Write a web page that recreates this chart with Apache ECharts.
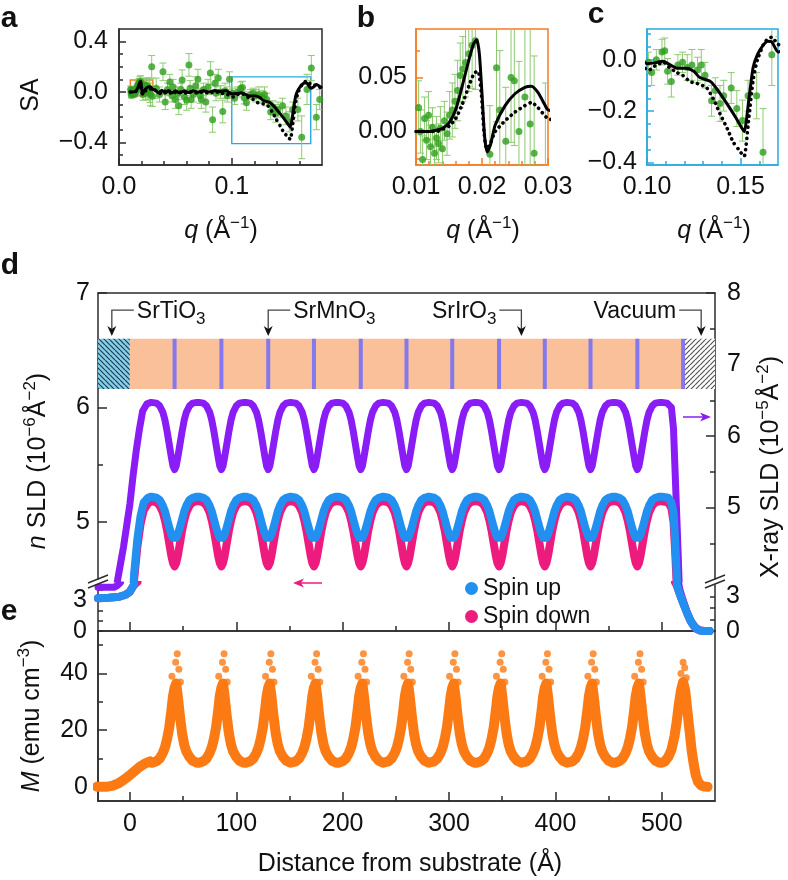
<!DOCTYPE html>
<html>
<head>
<meta charset="utf-8">
<title>SLD depth profile</title>
<script src="https://cdn.jsdelivr.net/npm/echarts@6.0.0/dist/echarts.min.js"></script>
<style>
  html, body { margin: 0; padding: 0; background: #fff; }
  #chart { width: 788px; height: 880px; }
</style>
</head>
<body>
<div id="chart"></div>
<script>
// ---- spin asymmetry points (a, b, c all use the same set) ----
var saQ = [
  0.0104, 0.0107, 0.0110, 0.0113, 0.0116, 0.0119, 0.0122, 0.0125, 0.0128, 0.0131,
  0.0134, 0.0137, 0.0140, 0.0143, 0.0147, 0.0151, 0.0155, 0.0159, 0.0163, 0.0167,
  0.0171, 0.0175, 0.0180, 0.0185, 0.0190, 0.0212, 0.0222, 0.0227, 0.0236, 0.0244,
  0.0249, 0.0256, 0.0265, 0.0273, 0.0279, 0.0290, 0.0296,
  0.033, 0.036, 0.039, 0.041, 0.043, 0.045, 0.047, 0.048, 0.050, 0.052,
  0.053, 0.055, 0.056, 0.058, 0.060, 0.062, 0.063, 0.064, 0.066, 0.068,
  0.070, 0.072, 0.073, 0.075, 0.077, 0.079, 0.081, 0.083, 0.085, 0.086,
  0.088, 0.090, 0.092, 0.094, 0.096, 0.098,
  0.1007, 0.1025, 0.105, 0.108, 0.1095, 0.111, 0.113, 0.1165, 0.119, 0.1215,
  0.124, 0.127, 0.129, 0.131, 0.1345, 0.1365, 0.139, 0.141, 0.145, 0.148,
  0.151, 0.154, 0.1586, 0.162, 0.1667, 0.1705, 0.175, 0.178
];
var saVal = [
  0.022, 0.000, -0.026, 0.012, -0.008, 0.015, -0.014, 0.004, -0.020, -0.006,
  -0.011, 0.003, -0.016, 0.010, -0.002, 0.015, 0.020, 0.028, 0.038, 0.052,
  0.058, 0.064, 0.072, 0.080, 0.084, -0.021, 0.059, 0.020, -0.009, 0.050,
  0.047, 0.000, 0.032, 0.007, -0.020, 0.200, -0.035,
  0.03, -0.02, 0.16, -0.08, 0.02, 0.08, -0.03, 0.04, -0.06, -0.01,
  -0.11, 0.02, 0.095, -0.04, -0.065, 0.215, 0.03, -0.06, -0.02, 0.05,
  0.10, -0.03, -0.06, 0.02, -0.08, 0.04, 0.15, -0.22, 0.07, -0.01,
  0.11, 0.00, -0.155, 0.01, -0.03, 0.10,
  -0.01, -0.05, 0.00, 0.03, 0.035, -0.045, -0.085, -0.02, -0.01, -0.03,
  -0.02, -0.04, -0.02, -0.06, -0.16, -0.12, -0.17, -0.14, -0.11, -0.19,
  -0.237, -0.14, -0.14, -0.36, 0.02, 0.19, -0.2, -0.06
];
var saErr = [
  0.025, 0.020, 0.022, 0.020, 0.018, 0.022, 0.020, 0.018, 0.022, 0.020,
  0.018, 0.020, 0.020, 0.018, 0.020, 0.022, 0.025, 0.025, 0.028, 0.030,
  0.030, 0.032, 0.035, 0.040, 0.045, 0.045, 0.050, 0.055, 0.050, 0.060,
  0.060, 0.065, 0.080, 0.090, 0.090, 0.090, 0.080,
  0.08, 0.06, 0.07, 0.06, 0.05, 0.06, 0.05, 0.06, 0.07, 0.05,
  0.07, 0.05, 0.08, 0.06, 0.08, 0.09, 0.06, 0.07, 0.06, 0.07,
  0.08, 0.06, 0.07, 0.05, 0.08, 0.06, 0.09, 0.10, 0.07, 0.06,
  0.07, 0.05, 0.09, 0.06, 0.05, 0.06,
  0.04, 0.05, 0.04, 0.05, 0.05, 0.05, 0.06, 0.04, 0.04, 0.05,
  0.06, 0.05, 0.06, 0.05, 0.06, 0.05, 0.07, 0.06, 0.06, 0.07,
  0.08, 0.06, 0.09, 0.17, 0.12, 0.10, 0.10, 0.08
];

// fits: solid and dotted model curves
var fitQ = [
  0.0100, 0.0120, 0.0140, 0.0150, 0.0160, 0.0170, 0.0180, 0.0187, 0.0192, 0.0196,
  0.0200, 0.0204, 0.0208, 0.0213, 0.0220, 0.0235, 0.0250, 0.0265, 0.0275, 0.0285,
  0.0295, 0.0300, 0.032, 0.035, 0.038, 0.041, 0.044, 0.047, 0.050, 0.054,
  0.058, 0.062, 0.066, 0.070, 0.075, 0.080, 0.085, 0.090, 0.095,
  0.1000, 0.1040, 0.1086, 0.1120, 0.1160, 0.1210, 0.1250, 0.1280, 0.1340, 0.1380,
  0.1426, 0.1470, 0.1510, 0.1520, 0.1545, 0.1567, 0.1590, 0.1620, 0.1645, 0.1667,
  0.1700, 0.1725, 0.1750, 0.1800
];
var fitSolid = [
  0.000, 0.000, 0.003, 0.008, 0.020, 0.042, 0.066, 0.081, 0.085, 0.072,
  0.035, -0.005, -0.019, -0.012, 0.006, 0.024, 0.035, 0.041, 0.042, 0.036,
  0.025, 0.020, 0.018, -0.008, 0.014, -0.010, 0.012, -0.008, 0.010, -0.009,
  0.008, -0.005, 0.010, -0.002, 0.010, 0.000, 0.012, 0.004, 0.010,
  -0.015, -0.012, -0.006, -0.018, -0.033, -0.033, -0.045, -0.068, -0.085, -0.12,
  -0.17, -0.22, -0.27, -0.28, -0.15, -0.03, 0.02, 0.056, 0.072, 0.07,
  0.03, 0.04, 0.06, 0.03
];
var fitDotQ = [
  0.0100, 0.0130, 0.0150, 0.0160, 0.0170, 0.0180, 0.0188, 0.0194, 0.0199, 0.0203,
  0.0207, 0.0212, 0.0220, 0.0235, 0.0250, 0.0265, 0.0275, 0.0285, 0.0300,
  0.033, 0.036, 0.040, 0.044, 0.048, 0.052, 0.056, 0.060, 0.065, 0.070,
  0.075, 0.080, 0.085, 0.090, 0.095,
  0.1010, 0.1050, 0.1090, 0.1120, 0.1160, 0.1190, 0.1230, 0.1280, 0.1320, 0.1360,
  0.1390, 0.1430, 0.1460, 0.1490, 0.1510, 0.1520, 0.1545, 0.1567, 0.1590, 0.1630,
  0.1667, 0.1700, 0.1750, 0.1800
];
var fitDotted = [
  0.000, 0.000, 0.005, 0.012, 0.025, 0.042, 0.054, 0.056, 0.035, 0.000,
  -0.016, -0.012, 0.000, 0.010, 0.018, 0.024, 0.027, 0.022, 0.012,
  0.008, -0.012, 0.008, -0.012, 0.006, -0.012, 0.005, -0.010, 0.004, -0.010,
  0.003, -0.012, 0.004, -0.010, -0.015,
  -0.040, -0.020, -0.010, -0.030, -0.050, -0.060, -0.085, -0.095, -0.110, -0.160,
  -0.210, -0.270, -0.320, -0.350, -0.370, -0.375, -0.220, -0.080, 0.000, 0.070,
  0.088, 0.060, 0.050, 0.030
];

// axis windows
var aQRange = [0, 0.18], aSARange = [-0.58, 0.5];
var bQRange = [0.01, 0.03], bSARange = [-0.031, 0.095];
var cQRange = [0.10, 0.17], cSARange = [-0.41, 0.12];

// ticks
var aQTicks = [0, 0.1], aQMinor = [0.02, 0.04, 0.06, 0.08, 0.12, 0.14, 0.16];
var aSATicks = [-0.4, 0, 0.4], aSAMinor = [-0.5, -0.3, -0.2, -0.1, 0.1, 0.2, 0.3];
var bQTicks = [0.01, 0.02, 0.03], bQMinor = [0.012, 0.014, 0.016, 0.018, 0.022, 0.024, 0.026, 0.028];
var bSATicks = [0, 0.05], bSAMinor = [-0.025, 0.025, 0.075];
var cQTicks = [0.10, 0.15], cQMinor = [0.11, 0.12, 0.13, 0.14, 0.16];
var cSATicks = [-0.4, -0.2, 0], cSAMinor = [-0.35, -0.3, -0.25, -0.15, -0.1, -0.05, 0.05, 0.1];

// ---- depth profiles (d, e) ----
var zRange = [-30, 550];
var nRange = [4.5, 7], xrRange = [4, 8];       // upper part of d
var nLowRange = [0, 4.5], xrLowRange = [0, 4]; // below the axis break
var mRange = [-5, 55];
var zTicks = [0, 100, 200, 300, 400, 500], zMinor = [50, 150, 250, 350, 450];
var nTicks = [5, 6, 7], nMinor = [5.5, 6.5];
var xrTicks = [5, 6, 7, 8], xrMinor = [4.5, 5.5, 6.5, 7.5];
var nLowTicks = [0, 1, 2, 3, 4], xrLowTicks = [0, 1, 2, 3], lowLabels = [0, 3];
var mTicks = [0, 20, 40], mMinor = [10, 30, 50];

// SrMnO3 layer centres, every dip sits on one
var smoPos = [42, 86, 130, 173, 217, 260, 303, 347, 390, 433, 477];
var dipOffset = [-21, -17, -14, -11, -9, -7, -5, -3, -1.5, 0, 1.5, 3, 5, 7, 9, 11, 14, 17, 21];
var xrayDip = [6.47, 6.46, 6.42, 6.33, 6.22, 6.06, 5.88, 5.70, 5.58, 5.53, 5.58, 5.70, 5.88, 6.06, 6.22, 6.33, 6.42, 6.46, 6.47];
var upDip   = [5.22, 5.21, 5.19, 5.14, 5.09, 5.02, 4.95, 4.89, 4.86, 4.85, 4.86, 4.89, 4.95, 5.02, 5.09, 5.14, 5.19, 5.21, 5.22];
var downDip = [5.18, 5.17, 5.14, 5.08, 5.01, 4.92, 4.81, 4.70, 4.64, 4.61, 4.64, 4.70, 4.81, 4.92, 5.01, 5.08, 5.14, 5.17, 5.18];
var mDip    = [8.5, 9.0, 10.0, 12.0, 14.0, 17.0, 21.0, 27.0, 32.0, 35.0, 36.5, 32.0, 25.0, 19.0, 15.0, 12.5, 10.5, 9.2, 8.5];

// substrate side
var xrayHeadZ = [-30, -20, -15, -12, -9, -6, -3, 0, 3, 6, 9, 12, 16, 20];
var xrayHead  = [3.8, 3.8, 3.8, 3.95, 4.2, 4.45, 4.75, 5.05, 5.45, 5.8, 6.1, 6.35, 6.45, 6.47];
var spinHeadZ = [-30, -20, -10, -4, 0, 2, 4, 7, 10, 13, 17, 20];
var upHead    = [3.2, 3.25, 3.35, 3.55, 3.85, 4.2, 4.55, 4.85, 5.05, 5.17, 5.21, 5.22];
var downHead  = [3.2, 3.25, 3.35, 3.55, 3.85, 4.2, 4.5, 4.78, 4.98, 5.1, 5.16, 5.18];
var mHeadZ = [-31, -22, -16, -11, -6, -1, 4, 9, 14, 19];
var mHead  = [0, 0, 0.4, 1.2, 2.4, 3.8, 5.4, 7.0, 8.2, 9.0];

// surface side
var xrayTailZ = [500, 505, 509, 511, 512.5, 514, 515.5, 517, 520, 524, 528, 532, 536, 540, 545];
var xrayTail  = [6.47, 6.46, 6.4, 6.1, 5.5, 4.9, 4.3, 3.6, 2.7, 1.6, 0.8, 0.3, 0.08, 0, 0];
var spinTailZ = [500, 506, 509, 511, 512.5, 514, 516, 518, 521, 524, 527, 530, 533, 536, 540, 545];
var upTail    = [5.22, 5.21, 5.17, 5.08, 4.85, 4.55, 3.9, 3.3, 2.5, 1.7, 1.0, 0.5, 0.18, 0.05, 0, 0];
var downTail  = [5.18, 5.17, 5.12, 5.0, 4.75, 4.45, 3.85, 3.3, 2.5, 1.7, 1.0, 0.5, 0.18, 0.05, 0, 0];
var mTailZ = [500, 503, 506, 509, 512, 514, 516, 518, 520, 522, 524, 526, 528, 530, 532, 534, 537, 540, 543];
var mTail  = [8.5, 9, 10.5, 13, 18, 23, 29, 34, 37, 34, 27, 20, 13, 8, 4, 1.8, 0.5, 0.1, 0];

// loose points sitting above each M peak
var tipOffset = [-2.5, 1, 2.5, 4, 5.5];
var tipM      = [39, 44, 47, 41.5, 37];
var lastTipZ = [518, 520, 521.5, 523];
var lastTipM = [40, 44, 42, 38.5];

// layer cartoon on top of d
var layerEdges = [-30, 0, 520, 550];        // STO | film | vacuum
var smoStripes = smoPos.concat([520]);
var layerBand = [6.16, 6.6];                 // in n SLD units
var tagNames = ['SrTiO3', 'SrMnO3', 'SrIrO3', 'Vacuum'];
var tagZ = [-17, 130, 368, 537];
var tagSide = [1, 1, -1, -1];

var FONT = '"Liberation Sans", Arial, Helvetica, sans-serif';
var AX = '#2b2b2b', TXT = '#111';
var GREEN = '#2f9e1e', GREEN_ERR = '#8fca72', ORANGE_BOX = '#f47c20', BLUE_BOX = '#29a9e1';
var PURPLE = '#8a1cf6', UP = '#2190f0', DOWN = '#ee1b7f', MCOL = '#fb7a14';

function pairs(xs, ys) { return xs.map(function (x, i) { return [x, ys[i]]; }); }

// head + one dip per SrMnO3 layer + tail
function profile(headZ, headV, dipV, tailZ, tailV) {
  var out = pairs(headZ, headV);
  smoPos.forEach(function (c) {
    dipOffset.forEach(function (d, i) { out.push([c + d, dipV[i]]); });
  });
  return out.concat(pairs(tailZ, tailV));
}

// keep only what belongs to one side of the axis break (plus the points next to it),
// thick lines would otherwise run along the clipped edge
function windowed(pts, range) {
  var inR = pts.map(function (p) { return p[1] >= range[0] && p[1] <= range[1]; });
  var out = [], gap = true;
  pts.forEach(function (p, i) {
    var keep = inR[i] || inR[i - 1] || inR[i + 1];
    if (!keep) {
      if (!gap) { out.push([p[0], '-']); gap = true; }
      return;
    }
    if (!inR[i] && !inR[i - 1] && !gap) out.push([p[0], '-']);
    out.push(p);
    gap = false;
  });
  return out;
}

var saPts = pairs(saQ, saVal);
var saErrPts = saQ.map(function (q, i) { return [q, saVal[i], saErr[i]]; });
var solidPts = pairs(fitQ, fitSolid);
var dottedPts = pairs(fitDotQ, fitDotted);
var xrayPts = profile(xrayHeadZ, xrayHead, xrayDip, xrayTailZ, xrayTail);
var upPts = profile(spinHeadZ, upHead, upDip, spinTailZ, upTail);
var downPts = profile(spinHeadZ, downHead, downDip, spinTailZ, downTail);
var mPts = profile(mHeadZ, mHead, mDip, mTailZ, mTail);
var tipPts = [];
smoPos.forEach(function (c) {
  tipOffset.forEach(function (d, i) { tipPts.push([c + d, tipM[i]]); });
});
tipPts = tipPts.concat(pairs(lastTipZ, lastTipM));

var layerData = [];
for (var k = 0; k < layerEdges.length - 1; k++) layerData.push([layerEdges[k], layerEdges[k + 1], k]);

// hatch fills
function hatch(bg, line, dir) {
  var s = 5, c = document.createElement('canvas');
  c.width = s; c.height = s;
  var g = c.getContext('2d');
  g.fillStyle = bg; g.fillRect(0, 0, s, s);
  g.strokeStyle = line; g.lineWidth = 1.2;
  g.beginPath();
  for (var j = -1; j <= 1; j++) {
    if (dir > 0) { g.moveTo(j * s, s); g.lineTo(j * s + s, 0); }
    else { g.moveTo(j * s, 0); g.lineTo(j * s + s, s); }
  }
  g.stroke();
  return { image: c, repeat: 'repeat' };
}
var layerFills = [hatch('#86cfe6', '#1b3a57', -1), '#f9c09a', hatch('#ffffff', '#555555', 1)];

function minus(s) { return String(s).replace('-', '\u2212'); }
var fmt0 = function (v) { return minus(v); };
var fmt1 = function (v) { return minus(v.toFixed(1)); };
var fmt2 = function (v) { return minus(v.toFixed(2)); };

function axis(grid, pos, range, ticks, labels, o) {
  o = o || {};
  var col = o.color || AX;
  return {
    type: 'value', gridIndex: grid, position: pos, min: range[0], max: range[1],
    splitLine: { show: false },
    axisLine: { show: !!o.line, onZero: false, lineStyle: { color: col, width: 1.5 } },
    axisTick: { show: ticks.length > 0, inside: true, length: o.len || 7, customValues: ticks,
      lineStyle: { color: col, width: 1.5 } },
    axisLabel: { show: !!labels, customValues: labels || [], margin: o.margin || 10,
      formatter: o.fmt || fmt0, color: TXT, fontSize: 25, fontFamily: FONT }
  };
}

function grid(l, t, w, h, border) {
  return { left: l, top: t, width: w, height: h, containLabel: false, outerBoundsMode: 'none',
    show: !!border, borderColor: border || 'transparent', borderWidth: 1.5, backgroundColor: 'transparent' };
}

var xAxes = [
  axis(0, 'bottom', aQRange, aQTicks, aQTicks, { line: true, fmt: fmt1, margin: 10 }),          // 0
  axis(0, 'bottom', aQRange, aQMinor, null, { len: 4 }),                                        // 1
  axis(1, 'bottom', bQRange, bQTicks, bQTicks, { line: true, fmt: fmt2, color: ORANGE_BOX }),  // 2
  axis(1, 'bottom', bQRange, bQMinor, null, { len: 4, color: ORANGE_BOX }),                     // 3
  axis(2, 'bottom', cQRange, cQTicks, cQTicks, { line: true, fmt: fmt2, color: BLUE_BOX }),    // 4
  axis(2, 'bottom', cQRange, cQMinor, null, { len: 4, color: BLUE_BOX }),                       // 5
  axis(3, 'top', zRange, [], null, { line: true }),                                             // 6
  axis(4, 'bottom', zRange, zTicks, null, { line: true, len: 9 }),                              // 7
  axis(4, 'bottom', zRange, zMinor, null, { len: 5 }),                                          // 8
  axis(5, 'bottom', zRange, zTicks, zTicks, { line: true, len: 9, margin: 11 }),               // 9
  axis(5, 'bottom', zRange, zMinor, null, { len: 5 })                                           // 10
];
var yAxes = [
  axis(0, 'left', aSARange, aSATicks, aSATicks, { line: true, fmt: fmt1, margin: 11 }),        // 0
  axis(0, 'left', aSARange, aSAMinor, null, { len: 4 }),                                        // 1
  axis(1, 'left', bSARange, bSATicks, bSATicks, { line: true, fmt: fmt2, color: ORANGE_BOX, margin: 9 }), // 2
  axis(1, 'left', bSARange, bSAMinor, null, { len: 4, color: ORANGE_BOX }),                     // 3
  axis(2, 'left', cSARange, cSATicks, cSATicks, { line: true, fmt: fmt1, color: BLUE_BOX }),   // 4
  axis(2, 'left', cSARange, cSAMinor, null, { len: 4, color: BLUE_BOX }),                       // 5
  axis(3, 'left', nRange, nTicks, nTicks, { line: true, len: 9, margin: 8 }),                   // 6
  axis(3, 'left', nRange, nMinor, null, { len: 5 }),                                            // 7
  axis(3, 'right', xrRange, xrTicks, xrTicks, { line: true, len: 9, margin: 12 }),              // 8
  axis(3, 'right', xrRange, xrMinor, null, { len: 5 }),                                         // 9
  axis(4, 'left', nLowRange, nLowTicks, lowLabels, { line: true, len: 5, margin: 11 }),         // 10
  axis(4, 'right', xrLowRange, xrLowTicks, lowLabels, { line: true, len: 5, margin: 11 }),      // 11
  axis(5, 'left', mRange, mTicks, mTicks, { line: true, len: 9, margin: 10 }),                  // 12
  axis(5, 'left', mRange, mMinor, null, { len: 5 })                                             // 13
];

function errBarItem(params, api) {
  var q = api.value(0), v = api.value(1), e = api.value(2);
  var lo = api.coord([q, v - e]), hi = api.coord([q, v + e]), w = 3.5;
  var st = { stroke: GREEN_ERR, lineWidth: 1 };
  return { type: 'group', children: [
    { type: 'line', shape: { x1: lo[0], y1: lo[1], x2: hi[0], y2: hi[1] }, style: st },
    { type: 'line', shape: { x1: lo[0] - w, y1: lo[1], x2: lo[0] + w, y2: lo[1] }, style: st },
    { type: 'line', shape: { x1: hi[0] - w, y1: hi[1], x2: hi[0] + w, y2: hi[1] }, style: st }
  ] };
}

function saSeries(xi, yi, extra) {
  var list = [
    { type: 'custom', xAxisIndex: xi, yAxisIndex: yi, clip: true, silent: true, z: 2,
      renderItem: errBarItem, encode: { x: 0, y: 1 }, data: saErrPts },
    { type: 'scatter', xAxisIndex: xi, yAxisIndex: yi, clip: true, silent: true, z: 3,
      symbolSize: 7, itemStyle: { color: GREEN }, data: saPts },
    { type: 'line', xAxisIndex: xi, yAxisIndex: yi, clip: true, silent: true, z: 4,
      symbol: 'none', smooth: 0.2, data: dottedPts,
      lineStyle: { color: '#000', width: 3.6, type: [0.1, 5.5], cap: 'round' } },
    { type: 'line', xAxisIndex: xi, yAxisIndex: yi, clip: true, silent: true, z: 5,
      symbol: 'none', smooth: 0.2, data: solidPts,
      lineStyle: { color: '#000', width: 3, join: 'round' } }
  ];
  if (extra) Object.assign(list[3], extra);
  return list;
}

function band(name, xi, yi, data, color, width, z) {
  return { type: 'line', name: name, xAxisIndex: xi, yAxisIndex: yi, clip: true, silent: true, z: z,
    symbol: 'none', data: data, connectNulls: false, itemStyle: { color: color },
    lineStyle: { color: color, width: width, cap: 'round', join: 'round' } };
}

var series = []
  .concat(saSeries(0, 0, {
    markArea: { silent: true, data: [
      [{ coord: [bQRange[0], bSARange[0]], itemStyle: { color: 'transparent', borderColor: ORANGE_BOX, borderWidth: 1.4 } },
       { coord: [bQRange[1], bSARange[1]] }],
      [{ coord: [cQRange[0], cSARange[0]], itemStyle: { color: 'transparent', borderColor: BLUE_BOX, borderWidth: 1.4 } },
       { coord: [cQRange[1], cSARange[1]] }]
    ] }
  }))
  .concat(saSeries(2, 2))
  .concat(saSeries(4, 4))
  .concat([
    { type: 'custom', xAxisIndex: 6, yAxisIndex: 6, clip: true, silent: true, z: 1, data: layerData,
      renderItem: function (params, api) {
        var p0 = api.coord([api.value(0), layerBand[1]]), p1 = api.coord([api.value(1), layerBand[0]]);
        return { type: 'rect', shape: { x: p0[0], y: p0[1], width: p1[0] - p0[0], height: p1[1] - p0[1] },
          style: { fill: layerFills[api.value(2)] } };
      } },
    { type: 'custom', xAxisIndex: 6, yAxisIndex: 6, clip: true, silent: true, z: 2,
      data: smoStripes.map(function (z) { return [z]; }),
      renderItem: function (params, api) {
        var p0 = api.coord([api.value(0), layerBand[1]]), p1 = api.coord([api.value(0), layerBand[0]]);
        return { type: 'rect', shape: { x: p0[0] - 2, y: p0[1], width: 4, height: p1[1] - p0[1] },
          style: { fill: '#8578ef' } };
      } },
    band('X-ray', 6, 8, windowed(xrayPts, xrRange), PURPLE, 7, 3),
    band('Spin down', 6, 6, windowed(downPts, nRange), DOWN, 8, 4),
    band('Spin up', 6, 6, windowed(upPts, nRange), UP, 8, 5),
    band('X-ray', 7, 11, windowed(xrayPts, xrLowRange), PURPLE, 7, 3),
    band('Spin down', 7, 10, windowed(downPts, nLowRange), DOWN, 8, 4),
    band('Spin up', 7, 10, windowed(upPts, nLowRange), UP, 8, 5),
    band('M', 9, 12, mPts, MCOL, 10, 3),
    { type: 'scatter', xAxisIndex: 9, yAxisIndex: 12, clip: true, silent: true, z: 4,
      symbolSize: 7, itemStyle: { color: MCOL }, data: tipPts }
  ]);

var chart = echarts.init(document.getElementById('chart'));
chart.setOption({
  animation: false,
  backgroundColor: '#fff',
  grid: [
    grid(119, 29, 203, 136, AX),
    grid(416, 29, 132, 136, ORANGE_BOX),
    grid(647, 29, 131, 136, BLUE_BOX),
    grid(98, 293, 617, 286),
    grid(98, 585, 617, 46),
    grid(98, 631, 617, 170, AX)
  ],
  xAxis: xAxes,
  yAxis: yAxes,
  legend: {
    data: [{ name: 'Spin up', icon: 'circle' }, { name: 'Spin down', icon: 'circle' }],
    orient: 'vertical', left: 465, top: 577, padding: 0, itemGap: 5,
    itemWidth: 13, itemHeight: 13, selectedMode: false,
    textStyle: { fontSize: 23, fontFamily: FONT, color: TXT }
  },
  series: series
});

// ---- text and decorations ----
function richSet(size) {
  return {
    i: { fontStyle: 'italic', fontSize: size, fontFamily: FONT, fill: TXT },
    sup: { fontSize: Math.round(size * 0.66), fontFamily: FONT, fill: TXT, verticalAlign: 'top' },
    sub: { fontSize: Math.round(size * 0.74), fontFamily: FONT, fill: TXT, verticalAlign: 'bottom' }
  };
}
function label(x, y, text, size, o) {
  o = o || {};
  return {
    type: 'text', x: x, y: y, rotation: o.rot || 0, z: 50, silent: true,
    style: {
      text: text, fontSize: size, fontFamily: FONT, fontWeight: o.bold ? 'bold' : 'normal',
      fill: o.color || TXT, align: o.align || 'center', verticalAlign: 'middle',
      lineHeight: o.lh || Math.round(size * 1.3), rich: richSet(size)
    }
  };
}
function hArrow(x0, x1, y, color) {
  var d = x1 > x0 ? 1 : -1;
  return [
    { type: 'line', z: 50, silent: true, shape: { x1: x0, y1: y, x2: x1 - d * 6, y2: y }, style: { stroke: color, lineWidth: 1.5 } },
    { type: 'polygon', z: 50, silent: true, shape: { points: [[x1, y], [x1 - d * 11, y - 4.5], [x1 - d * 8, y], [x1 - d * 11, y + 4.5]] },
      style: { fill: color } }
  ];
}
function breakMark(x) {
  return [
    { type: 'line', z: 60, silent: true, shape: { x1: x - 10, y1: 588, x2: x + 10, y2: 580 }, style: { stroke: AX, lineWidth: 1.5 } },
    { type: 'line', z: 60, silent: true, shape: { x1: x - 10, y1: 583, x2: x + 10, y2: 575 }, style: { stroke: AX, lineWidth: 1.5 } }
  ];
}

var g = [
  label(9, 19, 'a', 30, { bold: true }),
  label(366, 19, 'b', 30, { bold: true }),
  label(596, 15, 'c', 30, { bold: true }),
  label(10, 266, 'd', 30, { bold: true }),
  label(9, 612, 'e', 30, { bold: true }),
  label(31, 95, 'SA', 25, { rot: Math.PI / 2 }),
  label(221, 231, '{i|q} (Å{sup|\u22121})', 25),
  label(483, 231, '{i|q} (Å{sup|\u22121})', 25),
  label(714, 231, '{i|q} (Å{sup|\u22121})', 25),
  label(38, 461, '{i|n} SLD (10{sup|\u22126}Å{sup|\u22122})', 25, { rot: Math.PI / 2 }),
  label(771, 467, 'X-ray SLD (10{sup|\u22125}Å{sup|\u22122})', 25, { rot: Math.PI / 2 }),
  label(32, 716, '{i|M} (emu cm{sup|\u22123})', 25, { rot: Math.PI / 2 }),
  label(410, 864, 'Distance from substrate (Å)', 25)
]
  .concat(hArrow(322, 293, 583, DOWN))
  .concat(hArrow(683, 711, 417, PURPLE))
  .concat(breakMark(98))
  .concat(breakMark(715));

// layer tags with elbow arrows, placed in data coordinates
tagNames.forEach(function (name, i) {
  var p = chart.convertToPixel({ xAxisIndex: 6, yAxisIndex: 6 }, [tagZ[i], 6.85]);
  var tip = chart.convertToPixel({ xAxisIndex: 6, yAxisIndex: 6 }, [tagZ[i], 6.625]);
  var s = tagSide[i], x = p[0], y = p[1], ty = tip[1];
  g.push({ type: 'polyline', z: 50, silent: true, shape: { points: [[x + s * 22, y], [x, y], [x, ty - 7]] },
    style: { stroke: '#444', lineWidth: 1.3, fill: null } });
  g.push({ type: 'polygon', z: 50, silent: true, shape: { points: [[x, ty], [x - 4.5, ty - 10], [x, ty - 7], [x + 4.5, ty - 10]] },
    style: { fill: '#111' } });
  g.push(label(x + s * 25, y + 1, name.replace(/(\d)$/, '{sub|$1}'), 23, { align: s > 0 ? 'left' : 'right', lh: 34 }));
});

chart.setOption({ graphic: g });
</script>
</body>
</html>
